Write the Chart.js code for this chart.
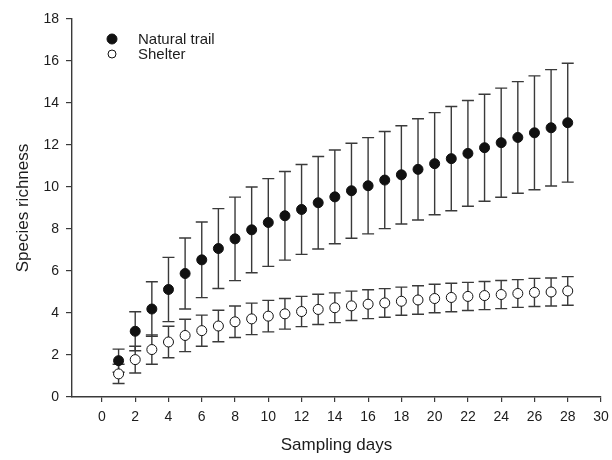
<!DOCTYPE html>
<html>
<head>
<meta charset="utf-8">
<title>Species richness</title>
<style>
  html, body { margin: 0; padding: 0; background: #ffffff; }
  #wrap { width: 612px; height: 460px; }
</style>
</head>
<body>
<div id="wrap"><canvas id="myChart" width="612" height="460"></canvas></div>

<script src="https://cdn.jsdelivr.net/npm/chart.js@4/dist/chart.umd.min.js"></script>
<script>
// sampling days
var days = [1, 2, 3, 4, 5, 6, 7, 8, 9, 10, 11, 12, 13, 14,
            15, 16, 17, 18, 19, 20, 21, 22, 23, 24, 25, 26, 27, 28];

// Natural trail: mean richness and error
var trailMean = [1.73, 3.13, 4.19, 5.12, 5.88, 6.53, 7.07, 7.53, 7.96, 8.31, 8.63, 8.93, 9.25, 9.53,
                 9.82, 10.06, 10.33, 10.58, 10.84, 11.11, 11.35, 11.60, 11.87, 12.11, 12.36, 12.58, 12.82, 13.06];
var trailErr = [0.55, 0.93, 1.30, 1.53, 1.69, 1.80, 1.90, 1.99, 2.04, 2.09, 2.11, 2.14, 2.20, 2.23,
                2.26, 2.29, 2.31, 2.34, 2.41, 2.43, 2.48, 2.52, 2.55, 2.60, 2.66, 2.71, 2.77, 2.83];

// Shelter: mean richness and error
var shelterMean = [1.10, 1.78, 2.26, 2.62, 2.93, 3.16, 3.38, 3.58, 3.72, 3.85, 3.96, 4.07, 4.17, 4.25,
                   4.34, 4.42, 4.48, 4.56, 4.62, 4.69, 4.74, 4.79, 4.83, 4.88, 4.93, 4.98, 5.00, 5.05];
var shelterErr = [0.46, 0.64, 0.70, 0.75, 0.77, 0.74, 0.75, 0.75, 0.75, 0.75, 0.73, 0.72, 0.72, 0.71,
                  0.70, 0.69, 0.68, 0.67, 0.68, 0.68, 0.68, 0.67, 0.67, 0.67, 0.66, 0.67, 0.67, 0.68];

var xTicks = [0, 2, 4, 6, 8, 10, 12, 14, 16, 18, 20, 22, 24, 26, 28, 30];
var yTicks = [0, 2, 4, 6, 8, 10, 12, 14, 16, 18];

var seriesNames = ['Natural trail', 'Shelter'];

var FONT = "'Liberation Sans', Arial, sans-serif";
var INK = '#1c1c1c';
var BAR = '#3a3a3a';

function pts(mean) {
  return days.map(function (d, i) { return { x: d, y: mean[i] }; });
}

// error bars, drawn under the markers
var errorBars = {
  id: 'errorBars',
  beforeDatasetsDraw: function (chart) {
    var ctx = chart.ctx;
    var xs = chart.scales.x, ys = chart.scales.y;
    var sets = [[trailMean, trailErr], [shelterMean, shelterErr]];
    ctx.save();
    ctx.strokeStyle = BAR;
    ctx.lineWidth = 1.4;
    sets.forEach(function (s) {
      days.forEach(function (d, i) {
        var px = xs.getPixelForValue(d);
        var top = ys.getPixelForValue(s[0][i] + s[1][i]);
        var bot = ys.getPixelForValue(s[0][i] - s[1][i]);
        ctx.beginPath();
        ctx.moveTo(px, top); ctx.lineTo(px, bot);
        ctx.moveTo(px - 6, top); ctx.lineTo(px + 6, top);
        ctx.moveTo(px - 6, bot); ctx.lineTo(px + 6, bot);
        ctx.stroke();
      });
    });
    ctx.restore();
  }
};

// small legend inside the plot, top left
var cornerLegend = {
  id: 'cornerLegend',
  afterDraw: function (chart) {
    var ctx = chart.ctx;
    var rows = [
      { y: 39, r: 5, fill: '#111111' },
      { y: 54, r: 4, fill: '#ffffff' }
    ];
    ctx.save();
    ctx.font = '15px ' + FONT;
    ctx.textBaseline = 'middle';
    rows.forEach(function (r, i) {
      ctx.beginPath();
      ctx.arc(112, r.y, r.r, 0, Math.PI * 2);
      ctx.fillStyle = r.fill;
      ctx.fill();
      ctx.lineWidth = 1;
      ctx.strokeStyle = '#111111';
      ctx.stroke();
      ctx.fillStyle = INK;
      ctx.fillText(seriesNames[i], 138, r.y + 0.5);
    });
    ctx.restore();
  }
};

var ctx = document.getElementById('myChart').getContext('2d');
var myChart = new Chart(ctx, {
  type: 'scatter',
  data: {
    datasets: [{
      label: seriesNames[0],
      data: pts(trailMean),
      pointRadius: 5,
      pointHoverRadius: 5,
      backgroundColor: '#111111',
      borderColor: '#111111',
      borderWidth: 1
    }, {
      label: seriesNames[1],
      data: pts(shelterMean),
      pointRadius: 5,
      pointHoverRadius: 5,
      backgroundColor: '#ffffff',
      borderColor: '#111111',
      borderWidth: 1
    }]
  },
  options: {
    responsive: false,
    animation: false,
    clip: false,
    layout: { padding: { top: 19, right: 11, left: 0, bottom: 0 } },
    plugins: {
      legend: { display: false },
      tooltip: { enabled: false }
    },
    scales: {
      x: {
        type: 'linear',
        min: -1.8,
        max: 30,
        afterFit: function (s) { s.height = 63; s.paddingLeft = 0; s.paddingRight = 0; },
        afterBuildTicks: function (s) { s.ticks = xTicks.map(function (v) { return { value: v }; }); },
        grid: { drawOnChartArea: false, tickLength: 5, color: BAR, lineWidth: 1.2 },
        border: { color: BAR, width: 1.4 },
        ticks: { color: INK, font: { family: FONT, size: 14 }, padding: 7, maxRotation: 0, autoSkip: false },
        title: { display: true, text: 'Sampling days', color: INK, font: { family: FONT, size: 17 }, padding: { top: 0, bottom: 4 } }
      },
      y: {
        type: 'linear',
        min: 0,
        max: 18,
        afterFit: function (s) { s.width = 72; s.paddingTop = 0; s.paddingBottom = 0; },
        afterBuildTicks: function (s) { s.ticks = yTicks.map(function (v) { return { value: v }; }); },
        grid: { drawOnChartArea: false, tickLength: 6, color: BAR, lineWidth: 1.2 },
        border: { color: BAR, width: 1.4 },
        ticks: { color: INK, font: { family: FONT, size: 14 }, padding: 7, autoSkip: false },
        title: { display: true, text: 'Species richness', color: INK, font: { family: FONT, size: 17 }, padding: { top: 13, bottom: 0 } }
      }
    }
  },
  plugins: [errorBars, cornerLegend]
});
</script>
</body>
</html>
